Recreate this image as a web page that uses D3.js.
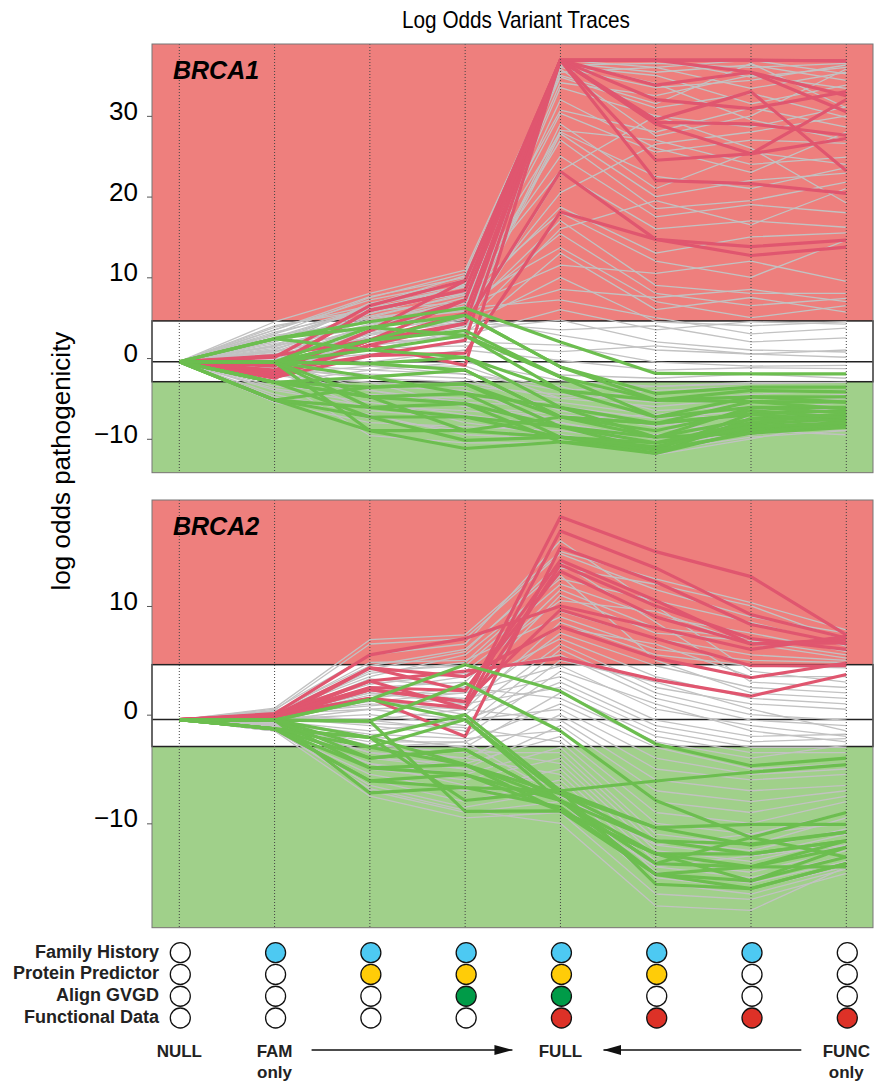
<!DOCTYPE html>
<html>
<head>
<meta charset="utf-8">
<script src="https://cdn.jsdelivr.net/npm/d3@7"></script>
<style>
  body { margin: 0; background: #fff; }
  text { font-family: "Liberation Sans", Arial, Helvetica, sans-serif; }
</style>
</head>
<body>
<div id="chart"></div>
<script>
// stages along x
const stages = ["NULL", "FAM", "FH+PP", "FH+PP+GVGD", "FULL", "FH+PP+FUNC", "FH+FUNC", "FUNC"];
const stageLabels = [["NULL"], ["FAM", "only"], [], [], ["FULL"], [], [], ["FUNC", "only"]];

// evidence used at each stage (rows: FH, PP, GVGD, FUNC)
const evidenceNames = ["Family History", "Protein Predictor", "Align GVGD", "Functional Data"];
const evidenceUsed = [
  [0, 0, 0, 0],
  [1, 0, 0, 0],
  [1, 1, 0, 0],
  [1, 1, 1, 0],
  [1, 1, 1, 1],
  [1, 1, 0, 1],
  [1, 0, 0, 1],
  [0, 0, 0, 1],
];

// thresholds
const priorLogOdds = -0.45;
const pathogenicCut = 4.6;
const benignCut = -2.93;

const brca1Ticks = [30, 20, 10, 0, -10];
const brca2Ticks = [10, 0, -10];

// BRCA1 traces
const brca1Red = [
  [-0.45, -2.2, 1.6, 4.3, 36.9, 36.9, 36.9, 36.8],
  [-0.45, 0.1, 6.5, 9.6, 36.9, 36.9, 35.4, 30.5],
  [-0.45, -1.8, 3.4, 7.2, 36.9, 33.8, 35.4, 32.5],
  [-0.45, 0.3, 2.2, 5.5, 36.9, 32.0, 30.9, 33.0],
  [-0.45, -2.4, 0.3, 2.2, 36.9, 29.2, 29.0, 27.6],
  [-0.45, -1.0, 5.9, 8.4, 36.9, 29.0, 25.3, 32.0],
  [-0.45, -2.0, 1.6, -0.9, 36.9, 24.5, 25.3, 27.2],
  [-0.45, -1.5, 3.4, 9.6, 36.9, 22.0, 21.6, 20.4],
  [-0.45, -2.5, 2.2, 4.3, 23.1, 14.7, 12.7, 13.75],
  [-0.45, -1.6, 0.3, 0.6, 18.1, 14.7, 13.8, 14.6],
  [-0.45, -0.8, 5.9, 8.4, 36.9, 29.5, 33.0, 23.2],
  [-0.45, -2.3, 2.2, 7.2, 36.9, 36.9, 36.9, 36.8],
];

const brca1Gray = [
  [-0.45, 4.5, 8.0, 10.9, 36.6, 35.4, 36.3, 34.4],
  [-0.45, 3.0, 7.5, 10.5, 36.0, 33.5, 34.4, 36.3],
  [-0.45, 1.5, 6.8, 9.0, 35.4, 36.0, 33.4, 35.4],
  [-0.45, 2.0, 5.5, 8.5, 34.8, 31.0, 32.8, 29.8],
  [-0.45, 0.5, 4.0, 7.0, 34.1, 32.5, 35.0, 33.4],
  [-0.45, -1.0, 3.5, 6.5, 33.5, 30.0, 28.6, 31.1],
  [-0.45, 3.5, 7.2, 9.5, 30.7, 28.0, 31.0, 28.6],
  [-0.45, 1.0, 5.0, 8.0, 30.3, 25.5, 27.0, 26.6],
  [-0.45, -2.0, 2.5, 5.0, 28.2, 27.0, 24.0, 24.9],
  [-0.45, 2.5, 6.0, 9.0, 28.0, 22.5, 21.0, 23.6],
  [-0.45, 0.0, 3.0, 4.5, 27.8, 20.0, 22.0, 22.9],
  [-0.45, 1.5, 4.5, 7.5, 27.0, 18.5, 19.5, 21.8],
  [-0.45, 3.8, 6.5, 8.8, 23.2, 30.0, 26.0, 19.2],
  [-0.45, -1.5, 2.0, 3.8, 22.9, 16.0, 17.0, 16.2],
  [-0.45, 0.8, 4.8, 6.8, 18.7, 13.0, 15.0, 15.5],
  [-0.45, 2.2, 5.2, 7.8, 18.0, 12.0, 10.0, 14.6],
  [-0.45, -0.8, 3.0, 5.5, 17.0, 9.0, 8.0, 8.0],
  [-0.45, 1.2, 4.2, 6.0, 15.4, 8.0, 6.5, 7.4],
  [-0.45, 3.2, 5.8, 7.0, 13.7, 7.0, 5.0, 6.5],
  [-0.45, -2.5, 1.5, 3.0, 13.0, 6.0, 7.5, 5.7],
  [-0.45, 0.2, 2.5, 4.0, 10.0, 4.5, 4.0, 4.5],
  [-0.45, 1.8, 3.8, 6.2, 7.2, 5.0, 3.0, 3.7],
  [-0.45, -1.2, 1.0, 3.5, 4.7, 2.0, 1.0, 0.75],
  [-0.45, 2.8, 4.5, 5.0, 2.8, 1.0, 0.5, 0.1],
  [-0.45, -0.5, 0.5, 2.0, 1.6, -0.5, -1.0, -0.9],
  [-0.45, 0.5, -0.5, 1.0, -0.3, -1.5, -1.2, -1.3],
  [-0.45, -1.0, 2.0, 2.5, -2.1, -2.5, -2.0, -2.5],
  [-0.45, -3.0, -1.5, -0.5, -2.8, -3.5, -3.0, -3.0],
  [-0.45, 4.0, 6.0, 8.0, 36.3, 36.5, 36.0, 36.5],
  [-0.45, 2.6, 6.2, 9.8, 36.8, 34.0, 29.5, 27.0],
  [-0.45, 1.0, 5.5, 9.2, 36.2, 35.0, 31.5, 33.8],
  [-0.45, -0.3, 4.2, 7.2, 35.8, 27.5, 30.0, 35.8],
  [-0.45, 2.0, 6.6, 10.2, 35.0, 31.5, 36.5, 31.0],
  [-0.45, 0.7, 3.8, 6.8, 32.0, 26.0, 23.0, 28.0],
  [-0.45, -1.8, 2.8, 4.8, 29.0, 21.0, 25.5, 24.0],
  [-0.45, 3.0, 6.3, 8.2, 25.0, 17.5, 19.0, 18.0],
  [-0.45, 1.4, 4.6, 5.8, 20.5, 26.5, 28.0, 30.0],
  [-0.45, -0.6, 2.2, 4.2, 16.0, 19.5, 16.5, 21.0],
  [-0.45, 2.3, 5.0, 6.4, 11.5, 10.5, 12.0, 9.5],
  [-0.45, 0.4, 3.2, 5.2, 8.5, 7.5, 8.5, 7.0],
  [-0.45, -1.4, 1.6, 2.8, 6.0, 3.5, 4.5, 4.2],
  [-0.45, 1.6, 3.0, 4.4, 3.5, 4.0, 2.0, 2.5],
  [-0.45, -0.2, 1.2, 1.5, 0.8, 1.5, 0.5, 1.0],
  [-0.45, 0.9, 2.5, 3.0, 36.9, 36.9, 34.8, 36.0],
  [-0.45, 3.5, 7.6, 10.0, 36.9, 36.0, 36.9, 35.2],
  [-0.45, -2.0, -3.0, -3.5, -4.5, -5.5, -4.5, -4.0],
  [-0.45, -3.5, -4.5, -5.0, -5.5, -7.0, -5.5, -5.0],
  [-0.45, -1.5, -2.0, -2.5, -6.5, -8.5, -7.0, -6.0],
  [-0.45, -4.0, -6.0, -6.5, -7.5, -9.0, -8.0, -7.0],
  [-0.45, -5.5, -8.0, -8.5, -9.0, -10.5, -9.5, -8.5],
  [-0.45, -2.5, -9.6, -10.5, -10.5, -11.5, -9.8, -9.0],
  [-0.45, -1.0, -5.0, -8.0, -9.5, -12.0, -10.0, -8.0],
  [-0.45, -3.0, -3.5, -4.0, -8.0, -10.0, -8.5, -7.5],
  [-0.45, 0.0, -1.0, -2.0, -3.5, -6.5, -6.0, -6.5],
  [-0.45, -4.5, -7.0, -9.5, -10.0, -11.0, -7.5, -7.0],
  [-0.45, -2.0, -1.0, -1.0, -5.0, -4.0, -3.5, -3.5],
  [-0.45, -0.5, -4.0, -6.0, -7.0, -8.0, -9.0, -9.5],
  [-0.45, -1.2, -2.5, -3.0, -5.0, -6.0, -5.0, -4.5],
  [-0.45, -2.8, -4.0, -5.5, -6.0, -7.5, -6.5, -5.5],
  [-0.45, -0.8, -1.5, -2.0, -4.0, -3.5, -3.2, -3.0],
  [-0.45, -3.8, -5.5, -7.0, -8.5, -9.5, -8.5, -8.0],
  [-0.45, -4.8, -7.5, -9.0, -9.5, -11.0, -9.0, -7.5],
  [-0.45, -2.2, -3.0, -6.0, -7.5, -7.0, -7.5, -6.5],
  [-0.45, -1.6, -6.5, -7.5, -8.0, -10.5, -8.5, -9.0],
];

const brca1Green = [
  [-0.45, 2.4, 4.5, 6.2, 2.0, -1.9, -1.95, -1.95],
  [-0.45, -0.5, 3.8, 5.3, -1.1, -4.4, -3.6, -3.6],
  [-0.45, -0.5, 2.2, 3.4, -2.35, -5.2, -4.0, -4.2],
  [-0.45, 2.4, 1.0, 2.8, -4.0, -7.3, -4.8, -4.8],
  [-0.45, -0.5, -0.7, 0.1, -6.1, -8.1, -5.4, -5.45],
  [-0.45, -3.0, -2.35, -1.5, -7.3, -9.8, -6.1, -6.1],
  [-0.45, -5.2, -3.6, -3.2, -8.5, -11.4, -6.9, -6.5],
  [-0.45, -3.0, -4.8, -4.4, -9.8, -11.8, -7.5, -7.0],
  [-0.45, -0.5, -6.1, -5.65, -10.4, -11.0, -8.2, -7.5],
  [-0.45, -5.2, -7.3, -7.3, -8.5, -9.8, -9.3, -8.6],
  [-0.45, -0.5, -9.0, -9.0, -7.3, -8.1, -7.0, -7.8],
  [-0.45, -3.0, -7.3, -10.2, -9.8, -10.5, -8.8, -8.2],
  [-0.45, -5.2, -9.0, -11.2, -10.4, -11.8, -9.0, -8.4],
  [-0.45, -0.5, 1.0, 0.1, -4.0, -5.2, -4.8, -5.45],
  [-0.45, 2.4, 3.8, 2.8, -2.35, -7.3, -6.1, -6.8],
  [-0.45, -0.5, -2.35, -4.4, -6.1, -9.8, -7.6, -7.2],
  [-0.45, -3.0, -4.8, -5.65, -8.5, -10.5, -8.0, -6.9],
  [-0.45, -0.5, -0.7, -1.5, -7.3, -9.0, -6.5, -7.4],
  [-0.45, -5.2, -6.1, -7.3, -9.8, -11.4, -9.3, -8.0],
  [-0.45, -3.0, -3.6, -3.2, -7.3, -8.1, -6.9, -7.9],
  [-0.45, -0.5, 2.2, 5.3, -1.1, -5.2, -5.4, -6.3],
  [-0.45, -0.5, -4.8, -9.0, -9.8, -11.0, -8.5, -8.0],
];

// BRCA2 traces
const brca2Red = [
  [-0.45, -0.2, 2.3, 1.2, 18.2, 15.0, 12.7, 7.35],
  [-0.45, -0.3, 3.1, 0.6, 16.9, 13.5, 9.2, 7.05],
  [-0.45, 0.0, 1.5, -2.0, 15.4, 12.2, 8.3, 6.5],
  [-0.45, -0.1, 4.3, 2.2, 14.2, 10.5, 6.5, 6.9],
  [-0.45, 0.1, 5.5, 7.0, 10.0, 8.0, 6.0, 7.2],
  [-0.45, -0.2, 2.3, 1.2, 9.65, 7.0, 4.5, 4.5],
  [-0.45, -0.4, 4.3, 3.5, 8.1, 5.2, 3.4, 4.75],
  [-0.45, 0.0, 3.1, 4.0, 5.2, 3.2, 1.7, 3.7],
  [-0.45, -0.2, 1.5, 0.6, 13.8, 10.0, 7.0, 6.0],
  [-0.45, -0.1, 2.5, 2.2, 13.2, 9.0, 6.5, 6.6],
];

const brca2Gray = [
  [-0.45, 0.6, 6.9, 7.35, 15.0, 12.5, 10.3, 7.8],
  [-0.45, 0.4, 6.5, 7.0, 14.8, 11.5, 9.0, 7.5],
  [-0.45, 0.3, 4.5, 6.0, 13.5, 12.0, 10.0, 6.8],
  [-0.45, 0.2, 3.5, 5.5, 12.5, 10.5, 8.5, 6.3],
  [-0.45, 0.0, 4.0, 4.5, 12.0, 9.0, 7.5, 5.8],
  [-0.45, 0.1, 2.5, 3.0, 11.5, 8.0, 7.0, 6.0],
  [-0.45, -0.2, 1.8, 2.0, 11.0, 7.5, 6.8, 5.5],
  [-0.45, 0.3, 3.0, 4.0, 10.5, 9.5, 6.5, 5.2],
  [-0.45, -0.1, 2.0, 1.5, 9.5, 7.0, 5.5, 5.0],
  [-0.45, 0.2, 4.8, 5.0, 9.0, 6.0, 5.0, 4.8],
  [-0.45, 0.0, 1.0, 0.5, 8.5, 5.5, 4.5, 4.3],
  [-0.45, -0.3, 2.2, 3.5, 8.0, 6.5, 3.5, 3.5],
  [-0.45, 0.1, 0.5, 1.0, 7.5, 4.5, 2.5, 2.0],
  [-0.45, -0.2, 3.3, 2.5, 7.0, 3.5, 1.5, 1.0],
  [-0.45, 0.0, 1.5, 0.0, 6.5, 2.5, 1.0, 0.5],
  [-0.45, -0.4, 0.0, -1.0, 6.0, 2.0, 0.0, -0.5],
  [-0.45, 0.2, 2.8, 3.8, 5.5, 1.5, -0.5, -1.0],
  [-0.45, -0.5, -0.5, -1.5, 5.0, 3.0, 0.5, -1.5],
  [-0.45, 0.0, 1.2, 2.0, 4.5, 0.5, -1.0, -2.0],
  [-0.45, -0.3, -1.0, -2.0, 4.0, 1.0, -1.5, -2.5],
  [-0.45, 0.1, 0.8, 1.5, 3.5, -0.5, -2.0, -1.8],
  [-0.45, -0.6, -1.5, -0.5, 3.0, -1.0, -2.5, -2.2],
  [-0.45, 0.0, 2.0, 1.0, 2.5, -1.5, -3.0, -3.0],
  [-0.45, -0.8, -2.0, -3.0, 2.0, -2.0, -3.5, -3.5],
  [-0.45, 0.3, 1.5, 2.5, 1.5, -2.5, -4.0, -2.8],
  [-0.45, -1.0, -2.5, -2.5, 1.0, -3.0, -5.0, -4.5],
  [-0.45, -0.5, 0.5, -0.5, 0.5, -4.0, -5.5, -5.0],
  [-0.45, -1.2, -3.0, -4.0, 0.0, -5.0, -6.0, -5.5],
  [-0.45, 0.0, -0.5, 0.5, -0.5, -6.0, -7.0, -6.5],
  [-0.45, -1.0, -3.5, -5.0, -1.0, -7.0, -8.0, -7.0],
  [-0.45, -0.7, -1.8, -2.2, -1.5, -8.0, -9.0, -7.5],
  [-0.45, -1.3, -4.0, -4.5, -2.0, -9.0, -10.0, -8.0],
  [-0.45, -0.4, -0.8, -1.2, -2.5, -10.0, -11.0, -9.0],
  [-0.45, -1.5, -4.5, -5.5, -3.0, -11.0, -12.0, -9.5],
  [-0.45, -0.9, -2.8, -3.5, -3.5, -11.5, -12.5, -10.5],
  [-0.45, -1.1, -5.0, -6.0, -4.0, -12.0, -13.0, -11.0],
  [-0.45, -0.6, -2.0, -3.0, -4.5, -12.5, -13.5, -11.5],
  [-0.45, -1.4, -5.5, -7.0, -5.0, -13.0, -14.0, -12.0],
  [-0.45, -0.8, -3.5, -4.0, -5.5, -13.5, -14.5, -12.5],
  [-0.45, -1.5, -6.0, -8.0, -6.0, -14.0, -15.0, -13.0],
  [-0.45, -1.0, -4.0, -5.0, -6.5, -14.5, -15.5, -13.5],
  [-0.45, -1.3, -6.5, -8.5, -7.0, -15.0, -16.0, -14.0],
  [-0.45, -1.2, -7.0, -9.0, -8.0, -15.5, -16.5, -14.2],
  [-0.45, -1.5, -7.5, -9.5, -9.0, -16.5, -17.0, -14.6],
  [-0.45, -1.4, -6.8, -8.8, -10.0, -17.6, -18.0, -14.0],
  [-0.45, -0.9, -3.0, -2.5, -7.5, -12.0, -11.0, -10.0],
  [-0.45, -1.1, -4.5, -6.5, -8.5, -14.0, -13.0, -12.0],
  [-0.45, 0.5, 5.5, 6.5, 16.0, 10.0, 4.0, 3.0],
  [-0.45, 0.2, 4.2, 5.8, 14.0, 8.5, 3.0, 2.5],
  [-0.45, 0.1, 3.8, 4.8, 12.8, 5.0, 2.0, 1.5],
];

const brca2Green = [
  [-0.45, -0.5, 1.4, 4.6, 2.15, -2.7, -4.7, -4.0],
  [-0.45, -0.5, -0.6, 2.9, -1.5, -7.9, -11.3, -9.0],
  [-0.45, -1.3, -2.1, 0.0, -7.0, -6.1, -5.3, -4.6],
  [-0.45, -0.5, -3.0, -0.45, -7.3, -10.4, -10.1, -10.1],
  [-0.45, -1.3, -4.0, -3.2, -7.9, -11.6, -11.9, -10.8],
  [-0.45, -0.5, -4.9, -4.6, -8.85, -12.8, -12.8, -11.6],
  [-0.45, -1.3, -6.1, -5.5, -7.9, -13.7, -14.0, -12.2],
  [-0.45, -0.5, -7.2, -6.7, -8.5, -14.7, -15.3, -13.1],
  [-0.45, -1.3, -2.1, -7.9, -7.0, -15.6, -16.0, -13.7],
  [-0.45, -0.5, -0.6, -8.9, -8.85, -12.8, -14.0, -14.0],
  [-0.45, -1.3, -3.0, -4.6, -7.3, -11.6, -12.8, -11.6],
  [-0.45, -0.5, -4.0, -3.2, -7.9, -13.7, -11.3, -13.1],
  [-0.45, -1.3, -4.9, -5.5, -8.85, -14.7, -16.0, -13.7],
  [-0.45, -0.5, 1.4, -0.45, -8.0, -12.8, -15.3, -12.2],
  [-0.45, -1.3, -6.1, -6.7, -7.0, -10.4, -12.0, -10.8],
  [-0.45, -0.5, -2.1, -4.6, -7.9, -14.7, -14.0, -11.6],
];

const colors = {
  bgRed: "#ee7f7d",
  bgGreen: "#a0d08a",
  red: "#e0566f",
  green: "#6cbe4f",
  gray: "#c2c2c2",
  evidence: ["#4dc9f2", "#ffcc08", "#009b48", "#dd3127"],
};

const drawChart = () => {
  const dimensions = {
    width: 879,
    height: 1083,
    left: 152,
    right: 873,
  };

  const panels = [
    { name: "BRCA1", red: brca1Red, gray: brca1Gray, green: brca1Green, ticks: brca1Ticks, domain: [-14.2, 38.9], top: 44, bottom: 472.7 },
    { name: "BRCA2", red: brca2Red, gray: brca2Gray, green: brca2Green, ticks: brca2Ticks, domain: [-19.6, 19.75], top: 500, bottom: 927.7 },
  ];

  const svg = d3
    .select("#chart")
    .append("svg")
    .attr("width", dimensions.width)
    .attr("height", dimensions.height);

  const xScale = d3.scalePoint().domain(stages).range([179.3, 846.3]);

  // title
  svg
    .append("text")
    .attr("x", 516)
    .attr("y", 28.3)
    .attr("text-anchor", "middle")
    .attr("font-size", "24px")
    .attr("textLength", 228)
    .attr("lengthAdjust", "spacingAndGlyphs")
    .text("Log Odds Variant Traces");

  // y label
  svg
    .append("text")
    .attr("transform", "translate(70,461) rotate(-90)")
    .attr("text-anchor", "middle")
    .attr("font-size", "26px")
    .text("log odds pathogenicity");

  const defs = svg.append("defs");

  panels.forEach((p, i) => {
    const yScale = d3.scaleLinear().domain(p.domain).range([p.bottom, p.top]);
    const ctr = svg.append("g");
    const w = dimensions.right - dimensions.left;

    defs
      .append("clipPath")
      .attr("id", `clip${i}`)
      .append("rect")
      .attr("x", dimensions.left)
      .attr("y", p.top)
      .attr("width", w)
      .attr("height", p.bottom - p.top);

    // background zones
    ctr
      .append("rect")
      .attr("x", dimensions.left)
      .attr("y", p.top)
      .attr("width", w)
      .attr("height", p.bottom - p.top)
      .attr("fill", colors.bgRed);

    ctr
      .append("rect")
      .attr("x", dimensions.left)
      .attr("y", yScale(benignCut))
      .attr("width", w)
      .attr("height", p.bottom - yScale(benignCut))
      .attr("fill", colors.bgGreen);

    ctr
      .append("rect")
      .attr("x", dimensions.left)
      .attr("y", yScale(pathogenicCut))
      .attr("width", w)
      .attr("height", yScale(benignCut) - yScale(pathogenicCut))
      .attr("fill", "#fff")
      .attr("stroke", "#222")
      .attr("stroke-width", 1.5);

    ctr
      .append("line")
      .attr("x1", dimensions.left)
      .attr("x2", dimensions.right)
      .attr("y1", yScale(priorLogOdds))
      .attr("y2", yScale(priorLogOdds))
      .attr("stroke", "#222")
      .attr("stroke-width", 1.5);

    // traces
    const line = d3
      .line()
      .x((d, j) => xScale(stages[j]))
      .y((d) => yScale(d));

    const traces = ctr
      .append("g")
      .attr("clip-path", `url(#clip${i})`)
      .attr("fill", "none")
      .attr("stroke-linejoin", "round");

    traces
      .append("g")
      .selectAll("path")
      .data(p.gray)
      .join("path")
      .attr("d", line)
      .attr("stroke", colors.gray)
      .attr("stroke-width", 1.3);

    traces
      .append("g")
      .selectAll("path")
      .data(p.red)
      .join("path")
      .attr("d", line)
      .attr("stroke", colors.red)
      .attr("stroke-width", 3.2);

    traces
      .append("g")
      .selectAll("path")
      .data(p.green)
      .join("path")
      .attr("d", line)
      .attr("stroke", colors.green)
      .attr("stroke-width", 3.2);

    // dotted stage lines
    ctr
      .append("g")
      .selectAll("line")
      .data(stages)
      .join("line")
      .attr("x1", (d) => xScale(d))
      .attr("x2", (d) => xScale(d))
      .attr("y1", p.top)
      .attr("y2", p.bottom)
      .attr("stroke", "#444")
      .attr("stroke-width", 1)
      .attr("stroke-dasharray", "1,2");

    // frame
    ctr
      .append("rect")
      .attr("x", dimensions.left)
      .attr("y", p.top)
      .attr("width", w)
      .attr("height", p.bottom - p.top)
      .attr("fill", "none")
      .attr("stroke", "#777")
      .attr("stroke-width", 1);

    // y axis
    const yAxis = d3.axisLeft(yScale).tickValues(p.ticks).tickSize(5).tickPadding(9);
    const yAxisGroup = ctr
      .append("g")
      .attr("transform", `translate(${dimensions.left},0)`)
      .call(yAxis);
    yAxisGroup.select(".domain").remove();
    yAxisGroup.selectAll(".tick line").attr("stroke", "#555");
    yAxisGroup
      .selectAll(".tick text")
      .attr("font-size", "26px")
      .attr("font-family", "Liberation Sans, Arial, sans-serif")
      .attr("dy", "0.14em")
      .attr("fill", "#000");

    // gene label
    ctr
      .append("text")
      .attr("x", 173)
      .attr("y", p.top + 34.5)
      .attr("font-size", "25px")
      .attr("font-weight", "bold")
      .attr("font-style", "italic")
      .text(p.name);
  });

  // evidence legend
  const rowScale = d3.scalePoint().domain(evidenceNames).range([952.7, 1018]);

  svg
    .append("g")
    .selectAll("text")
    .data(evidenceNames)
    .join("text")
    .attr("x", 159)
    .attr("y", (d) => rowScale(d) + 4.8)
    .attr("text-anchor", "end")
    .attr("font-size", "18px")
    .attr("font-weight", "bold")
    .attr("fill", "#222")
    .text((d) => d);

  const cells = [];
  stages.forEach((s, si) => {
    evidenceNames.forEach((e, ei) => {
      cells.push({ stage: s, row: e, on: evidenceUsed[si][ei], color: colors.evidence[ei] });
    });
  });

  svg
    .append("g")
    .selectAll("circle")
    .data(cells)
    .join("circle")
    .attr("cx", (d) => xScale(d.stage) + 1)
    .attr("cy", (d) => rowScale(d.row))
    .attr("r", 10)
    .attr("fill", (d) => (d.on ? d.color : "#fff"))
    .attr("stroke", "#111")
    .attr("stroke-width", 1.3);

  // stage names
  const labels = svg
    .append("g")
    .attr("font-size", "17px")
    .attr("font-weight", "bold")
    .attr("fill", "#222")
    .attr("text-anchor", "middle")
    .selectAll("text")
    .data(stages)
    .join("text")
    .attr("x", (d) => xScale(d))
    .attr("y", 1056.7);

  labels
    .selectAll("tspan")
    .data((d) => stageLabels[stages.indexOf(d)])
    .join("tspan")
    .attr("x", function () {
      return d3.select(this.parentNode).attr("x");
    })
    .attr("dy", (d, i) => (i === 0 ? 0 : 21.5))
    .text((d) => d);

  // arrows
  defs
    .append("marker")
    .attr("id", "head")
    .attr("viewBox", "0 0 18 10")
    .attr("markerUnits", "userSpaceOnUse")
    .attr("markerWidth", 18)
    .attr("markerHeight", 10)
    .attr("refX", 18)
    .attr("refY", 5)
    .attr("orient", "auto")
    .append("path")
    .attr("d", "M0,0L18,5L0,10Z")
    .attr("fill", "#111");

  const arrows = [
    { from: xScale("FAM") + 37, to: xScale("FULL") - 48 },
    { from: xScale("FUNC") - 45, to: xScale("FULL") + 43 },
  ];

  svg
    .append("g")
    .selectAll("line")
    .data(arrows)
    .join("line")
    .attr("x1", (d) => d.from)
    .attr("x2", (d) => d.to)
    .attr("y1", 1050)
    .attr("y2", 1050)
    .attr("stroke", "#111")
    .attr("stroke-width", 1.3)
    .attr("marker-end", "url(#head)");
};

drawChart();
</script>
</body>
</html>
